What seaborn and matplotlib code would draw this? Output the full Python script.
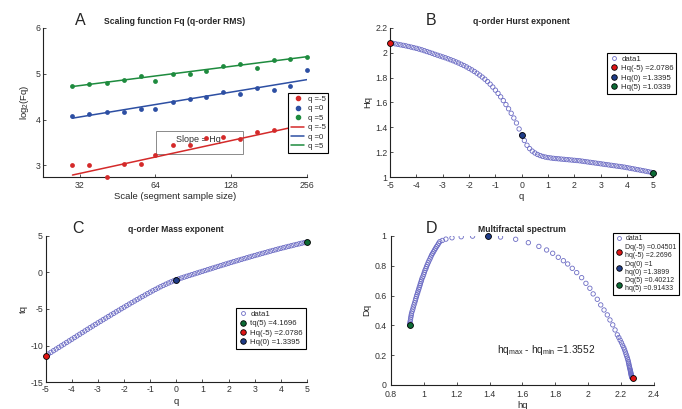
"""Multifractal DFA summary: Fq scaling, Hq, tq and the multifractal spectrum."""
import matplotlib
matplotlib.use("Agg")
import matplotlib.pyplot as plt
import numpy as np
import seaborn as sns
from matplotlib.lines import Line2D
from matplotlib.patches import Rectangle
from matplotlib.ticker import FuncFormatter, NullLocator

# ---- panel A: log2(Fq) vs scale -------------------------------------------
scales = [30, 35, 41, 48, 56, 64, 75, 88, 102, 119, 139, 162, 189, 220, 256]
fq_neg5 = [3.00, 3.00, 2.74, 3.02, 3.02, 3.23, 3.44, 3.44, 3.60, 3.62, 3.58,
           3.73, 3.77, 3.86, 3.98]
fq_0 = [4.08, 4.12, 4.17, 4.17, 4.24, 4.24, 4.39, 4.45, 4.49, 4.59, 4.55,
        4.68, 4.65, 4.74, 5.09]
fq_5 = [4.74, 4.77, 4.80, 4.87, 4.94, 4.85, 5.00, 5.00, 5.05, 5.16, 5.21,
        5.12, 5.29, 5.32, 5.36]
fit_scales = [30, 256]
fit_neg5 = [2.79, 3.90]
fit_0 = [4.03, 4.87]
fit_5 = [4.72, 5.37]

# ---- panel B: Hurst exponent per q ----------------------------------------
q = np.round(np.arange(-50, 51) / 10, 1)
hq_hurst = [
    2.079, 2.075, 2.071, 2.067, 2.063, 2.059, 2.055, 2.050, 2.045, 2.040,
    2.035, 2.029, 2.023, 2.016, 2.009, 2.002, 1.995, 1.987, 1.980, 1.973,
    1.966, 1.959, 1.951, 1.943, 1.935, 1.926, 1.917, 1.907, 1.897, 1.886,
    1.874, 1.862, 1.849, 1.835, 1.820, 1.804, 1.787, 1.768, 1.747, 1.724,
    1.699, 1.673, 1.645, 1.615, 1.583, 1.549, 1.513, 1.475, 1.435, 1.387,
    1.3395, 1.294, 1.256, 1.229, 1.209, 1.194, 1.182, 1.173, 1.166, 1.161,
    1.157, 1.154, 1.151, 1.149, 1.147, 1.145, 1.143, 1.141, 1.139, 1.137,
    1.135, 1.133, 1.131, 1.128, 1.125, 1.122, 1.119, 1.116, 1.113, 1.110,
    1.107, 1.104, 1.101, 1.098, 1.095, 1.092, 1.089, 1.086, 1.083, 1.080,
    1.076, 1.072, 1.068, 1.064, 1.060, 1.056, 1.052, 1.048, 1.044, 1.039,
    1.034,
]
hurst_marks_q = [-5, 0, 5]
hurst_marks = [2.0786, 1.3395, 1.0339]

# ---- panel C: mass exponent tq = q*Hq - 1 ---------------------------------
tq = q * np.array(hq_hurst) - 1
tq_marks_q = [5, -5, 0]
tq_marks = [4.1696, -11.393, -1.0]

# ---- panel D: multifractal spectrum (q from -5 to 5) ----------------------
hq_spec = [
    2.2696, 2.265, 2.264, 2.263, 2.262, 2.261, 2.260, 2.259, 2.257, 2.256,
    2.254, 2.252, 2.250, 2.248, 2.246, 2.244, 2.241, 2.238, 2.234, 2.230,
    2.226, 2.221, 2.216, 2.209, 2.202, 2.194, 2.186, 2.177, 2.163, 2.149,
    2.132, 2.116, 2.096, 2.076, 2.055, 2.030, 2.010, 1.986, 1.960, 1.930,
    1.903, 1.875, 1.849, 1.818, 1.784, 1.747, 1.700, 1.636, 1.559, 1.467,
    1.3899, 1.297, 1.228, 1.172, 1.135, 1.113,
    1.098, 1.091, 1.085, 1.078, 1.072, 1.066, 1.060, 1.054, 1.048, 1.043,
    1.038, 1.032, 1.027, 1.022, 1.017, 1.013, 1.008, 1.004, 1.000, 0.996,
    0.991, 0.987, 0.984, 0.980, 0.977, 0.973, 0.970, 0.966, 0.963, 0.959,
    0.956, 0.952, 0.949, 0.945, 0.941, 0.937, 0.934, 0.930, 0.926, 0.924,
    0.922, 0.920, 0.918, 0.916, 0.91433,
]
dq_spec = [
    0.045, 0.049, 0.053, 0.058, 0.063, 0.069, 0.075, 0.082, 0.089, 0.097,
    0.105, 0.114, 0.124, 0.134, 0.145, 0.156, 0.168, 0.180, 0.193, 0.206,
    0.220, 0.235, 0.250, 0.266, 0.283, 0.300, 0.318, 0.336, 0.369, 0.403,
    0.436, 0.470, 0.503, 0.537, 0.575, 0.611, 0.649, 0.682, 0.720, 0.754,
    0.783, 0.812, 0.834, 0.857, 0.884, 0.906, 0.930, 0.955, 0.978, 0.993,
    1.000, 0.999, 0.995, 0.988, 0.979, 0.970,
    0.962, 0.951, 0.939, 0.928, 0.917, 0.906, 0.894, 0.883, 0.872, 0.859,
    0.846, 0.833, 0.820, 0.807, 0.794, 0.781, 0.769, 0.756, 0.743, 0.730,
    0.718, 0.705, 0.693, 0.680, 0.668, 0.655, 0.643, 0.630, 0.618, 0.605,
    0.593, 0.579, 0.565, 0.551, 0.537, 0.523, 0.509, 0.495, 0.481, 0.468,
    0.455, 0.442, 0.428, 0.415, 0.40212,
]
spec_marks_h = [2.2696, 1.3899, 0.91433]
spec_marks_d = [0.04501, 1.0, 0.40212]

RED, BLUE, GREEN = "#d42a2a", "#2d4fa3", "#1e8b3e"
MK_RED, MK_BLUE, MK_GREEN = "#e01515", "#1f3c88", "#0d6b35"
OPEN = "#6c6cc4"

sns.set_style("ticks")
plt.rcParams["font.family"] = ["Liberation Sans", "DejaVu Sans"]
plt.rcParams.update({
    "axes.unicode_minus": False,
    "mathtext.default": "regular",
    "xtick.direction": "in", "ytick.direction": "in",
    "xtick.major.size": 2.5, "ytick.major.size": 2.5,
    "xtick.major.width": 0.6, "ytick.major.width": 0.6,
    "axes.linewidth": 0.8, "xtick.labelsize": 6.3, "ytick.labelsize": 6.3,
    "xtick.major.pad": 2.5, "ytick.major.pad": 2.0,
    "axes.labelsize": 6.8, "axes.edgecolor": "#222222",
    "xtick.color": "#333333", "ytick.color": "#333333",
})

fig = plt.figure(figsize=(6.82, 4.09), dpi=100)
axA = fig.add_axes([0.063, 0.567, 0.387, 0.365])
axB = fig.add_axes([0.572, 0.567, 0.386, 0.365])
axC = fig.add_axes([0.067, 0.066, 0.383, 0.357])
axD = fig.add_axes([0.573, 0.059, 0.386, 0.364])

g_fmt = FuncFormatter(lambda v, _: f"{v:g}")


def panel_deco(ax, letter, lx, title):
    ax.text(lx, 1.0, letter, transform=ax.transAxes, fontsize=11.5,
            va="bottom", ha="left")
    ax.set_title(title, fontsize=6.2, fontweight="bold", pad=3)
    sns.despine(ax=ax)


def legend_box(ax, handles, labels, fs=5.6, **kw):
    leg = ax.legend(handles, labels, fontsize=fs, frameon=True, fancybox=False,
                    framealpha=1, edgecolor="black", borderpad=0.35,
                    handletextpad=0.45, labelspacing=0.25, **kw)
    leg.get_frame().set_linewidth(0.8)
    return leg


def dot(color, open_=False):
    if open_:
        return Line2D([], [], ls="none", marker="o", ms=2.8, mfc="none",
                      mec=OPEN, mew=0.6)
    return Line2D([], [], ls="none", marker="o", ms=4, mfc=color, mec="black",
                  mew=0.6)


# ---------------- A ----------------
axA.set_xscale("log", base=2)
for vals, fit, col in [(fq_neg5, fit_neg5, RED), (fq_0, fit_0, BLUE),
                       (fq_5, fit_5, GREEN)]:
    sns.scatterplot(x=scales, y=vals, ax=axA, color=col, s=12,
                    linewidth=0, clip_on=False, zorder=3)
    sns.lineplot(x=fit_scales, y=fit, ax=axA, color=col, linewidth=1.1,
                 zorder=2)
axA.set_xlim(22.9, 256)
axA.set_ylim(2.745, 6)
axA.set_xticks([32, 64, 128, 256])
axA.set_xticklabels(["32", "64", "128", "256"])
axA.xaxis.set_minor_locator(NullLocator())
axA.set_yticks([3, 4, 5, 6])
axA.set_xlabel("Scale (segment sample size)", labelpad=2)
axA.set_ylabel("log$_2$(Fq)", labelpad=3)
axA.add_patch(Rectangle((0.428, 0.154), 0.33, 0.155, transform=axA.transAxes,
                        fill=False, ec="#8a8a8a", lw=0.7, zorder=1))
axA.text(0.59, 0.255, "Slope = Hq", transform=axA.transAxes, fontsize=6.5,
         color="#333333", ha="center", va="center", zorder=1)
panel_deco(axA, "A", 0.12, "Scaling function Fq (q-order RMS)")
hA = [Line2D([], [], ls="none", marker="o", ms=3, mfc=c, mec=c)
      for c in (RED, BLUE, GREEN)]
hA += [Line2D([], [], color=c, lw=1.1) for c in (RED, BLUE, GREEN)]
legend_box(axA, hA, ["q =-5", "q =0", "q =5", "q =-5", "q =0", "q =5"],
           loc="upper left", bbox_to_anchor=(0.915, 0.59), handlelength=1.7)

# ---------------- B ----------------
sns.scatterplot(x=q, y=hq_hurst, ax=axB, marker="o", s=10, facecolor="none",
                edgecolor=OPEN, linewidth=0.6, zorder=2)
for xv, yv, c in zip(hurst_marks_q, hurst_marks, (MK_RED, MK_BLUE, MK_GREEN)):
    axB.scatter([xv], [yv], s=18, color=c, edgecolor="black", linewidth=0.6,
                zorder=4, clip_on=False)
axB.set_xlim(-5, 5)
axB.set_ylim(1, 2.2)
axB.set_xticks(range(-5, 6))
axB.set_yticks(np.round(np.arange(1, 2.21, 0.2), 1))
axB.yaxis.set_major_formatter(g_fmt)
axB.set_xlabel("q", labelpad=2)
axB.set_ylabel("Hq", labelpad=2)
panel_deco(axB, "B", 0.137, "q-order Hurst exponent")
legend_box(axB, [dot(None, True), dot(MK_RED), dot(MK_BLUE), dot(MK_GREEN)],
           ["data1", "Hq(-5) =2.0786", "Hq(0) =1.3395", "Hq(5) =1.0339"],
           loc="upper left", bbox_to_anchor=(0.81, 0.86), handlelength=1.0)

# ---------------- C ----------------
sns.scatterplot(x=q, y=tq, ax=axC, marker="o", s=10, facecolor="none",
                edgecolor=OPEN, linewidth=0.6, zorder=2)
for xv, yv, c in zip(tq_marks_q, tq_marks, (MK_GREEN, MK_RED, MK_BLUE)):
    axC.scatter([xv], [yv], s=18, color=c, edgecolor="black", linewidth=0.6,
                zorder=4, clip_on=False)
axC.set_xlim(-5, 5)
axC.set_ylim(-15, 5)
axC.set_xticks(range(-5, 6))
axC.set_yticks([-15, -10, -5, 0, 5])
axC.set_xlabel("q", labelpad=2)
axC.set_ylabel("tq", labelpad=2)
panel_deco(axC, "C", 0.10, "q-order Mass exponent")
legend_box(axC, [dot(None, True), dot(MK_GREEN), dot(MK_RED), dot(MK_BLUE)],
           ["data1", "tq(5) =4.1696", "Hq(-5) =2.0786", "Hq(0) =1.3395"],
           loc="lower right", bbox_to_anchor=(1.01, 0.2), handlelength=1.0)

# ---------------- D ----------------
sns.scatterplot(x=hq_spec, y=dq_spec, ax=axD, marker="o", s=10,
                facecolor="none", edgecolor=OPEN, linewidth=0.6, zorder=2)
for xv, yv, c in zip(spec_marks_h, spec_marks_d, (MK_RED, MK_BLUE, MK_GREEN)):
    axD.scatter([xv], [yv], s=18, color=c, edgecolor="black", linewidth=0.6,
                zorder=4, clip_on=False)
axD.set_xlim(0.8, 2.4)
axD.set_ylim(0, 1)
axD.set_xticks(np.round(np.arange(0.8, 2.41, 0.2), 1))
axD.set_yticks(np.round(np.arange(0, 1.01, 0.2), 1))
axD.xaxis.set_major_formatter(g_fmt)
axD.yaxis.set_major_formatter(g_fmt)
axD.tick_params(axis="x", pad=4)
axD.tick_params(axis="y", pad=3)
axD.set_xlabel("hq", labelpad=1)
axD.set_ylabel("Dq", labelpad=2)
axD.text(0.405, 0.235, "hq$_{max}$ - hq$_{min}$ =1.3552",
         transform=axD.transAxes, fontsize=7.3, ha="left", va="center",
         color="#222222")
panel_deco(axD, "D", 0.133, "Multifractal spectrum")
axD.title.set_position((0.5, 0.99))
legend_box(axD, [dot(None, True), dot(MK_RED), dot(MK_BLUE), dot(MK_GREEN)],
           ["data1", "Dq(-5) =0.04501\nhq(-5) =2.2696",
            "Dq(0) =1\nhq(0) =1.3899",
            "Dq(5) =0.40212\nhq(5) =0.91433"],
           fs=5.0, loc="upper left", bbox_to_anchor=(0.83, 1.045),
           handlelength=1.0)

fig.savefig("out.png", dpi=100)
